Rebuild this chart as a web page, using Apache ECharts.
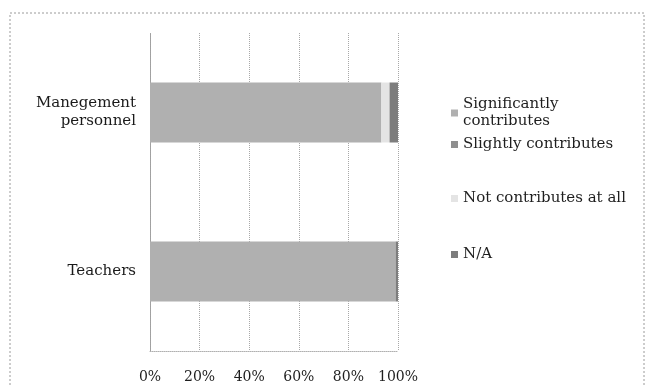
<!DOCTYPE html>
<html>
<head>
<meta charset="utf-8">
<script src="https://cdn.jsdelivr.net/npm/echarts@6/dist/echarts.min.js"></script>
<style>
  html, body { margin: 0; padding: 0; background: #ffffff; }
  #chart { width: 647px; height: 387px; }
</style>
</head>
<body>
<div id="chart"></div>
<script>
// Respondent groups (bottom to top on the category axis)
const categories = ['Teachers', 'Manegement\npersonnel'];

// Share of answers per group, in percent
const significantly = [99, 93.3];
const slightly = [0, 0];
const notAtAll = [0, 3.3];
const notApplicable = [1, 3.4];

const seriesNames = ['Significantly\ncontributes', 'Slightly contributes', 'Not contributes at all', 'N/A'];
const seriesColors = ['#b0b0b0', '#8f8f8f', '#e4e4e4', '#7d7d7d'];
const seriesValues = [significantly, slightly, notAtAll, notApplicable];

const tickLabels = ['0%', '20%', '40%', '60%', '80%', '100%'];

const font = '"DejaVu Serif", "Liberation Serif", serif';
const legendTops = [91, 131, 185, 241];

const chart = echarts.init(document.getElementById('chart'), null, { renderer: 'canvas' });

chart.setOption({
  animation: false,
  backgroundColor: '#ffffff',
  textStyle: { fontFamily: font },
  grid: { left: 150, right: 249, top: 33, bottom: 36 },
  graphic: [{
    type: 'rect',
    shape: { x: 10, y: 13, width: 634, height: 380 },
    style: { fill: 'none', stroke: '#9a9a9a', lineWidth: 1, lineDash: [2, 2] },
    silent: true
  }],
  legend: seriesNames.map((name, i) => ({
    data: [name],
    left: 446,
    top: legendTops[i],
    itemWidth: 7,
    itemHeight: 7,
    itemGap: 4,
    icon: 'rect',
    selectedMode: false,
    textStyle: { fontFamily: font, fontSize: 15, color: '#1e1e1e', lineHeight: 17 }
  })),
  xAxis: {
    type: 'value',
    min: 0,
    max: 100,
    interval: 20,
    axisLine: { show: true, lineStyle: { color: '#b0b0b0', type: 'dotted' } },
    axisTick: { show: false },
    axisLabel: {
      margin: 19,
      fontFamily: font,
      fontSize: 14,
      color: '#1e1e1e',
      formatter: v => tickLabels[Math.round(v / 20)]
    },
    splitLine: { show: true, lineStyle: { color: '#a8a8a8', type: 'dotted', width: 1 } }
  },
  yAxis: {
    type: 'category',
    data: categories,
    axisLine: { show: true, lineStyle: { color: '#a0a0a0', type: 'dotted' } },
    axisTick: { show: false },
    axisLabel: {
      margin: 14,
      fontFamily: font,
      fontSize: 15,
      lineHeight: 18,
      color: '#1a1a1a',
      align: 'right'
    }
  },
  series: seriesNames.map((name, i) => ({
    name: name,
    type: 'bar',
    stack: 'total',
    barWidth: 60,
    data: seriesValues[i],
    itemStyle: { color: seriesColors[i] }
  }))
});
</script>
</body>
</html>
